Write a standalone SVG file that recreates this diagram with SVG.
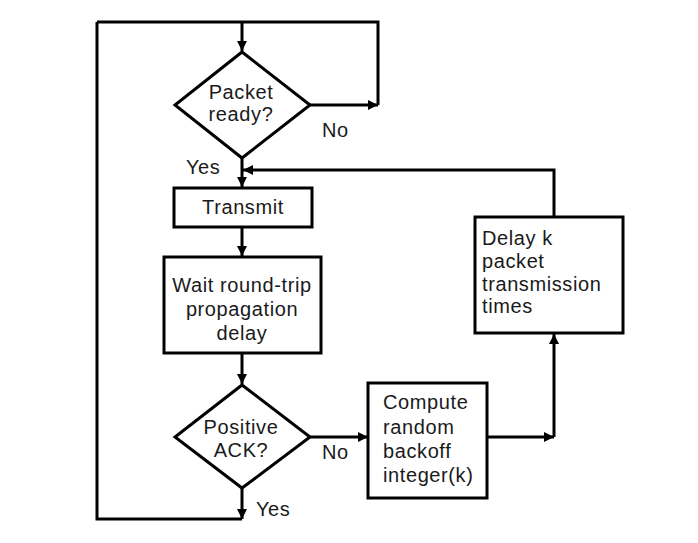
<svg xmlns="http://www.w3.org/2000/svg" width="698" height="543" viewBox="0 0 698 543">
<style>
.ln{fill:none;stroke:#000;stroke-width:3}
.shp{fill:#fff;stroke:#000;stroke-width:3}
.t{font-family:"Liberation Sans",Arial,sans-serif;font-size:20px;letter-spacing:0.6px;fill:#1a1a1a}
.c{text-anchor:middle}
</style>
<defs>
<marker id="ah" viewBox="0 0 10 10" refX="10" refY="5" markerWidth="10" markerHeight="10" markerUnits="userSpaceOnUse" orient="auto">
<path d="M0,0 L10,5 L0,10 z" fill="#000"/>
</marker>
</defs>
<rect width="698" height="543" fill="#fff"/>
<g id="connectors">
<path class="ln" d="M97,22 H378 V105"/>
<path class="ln" d="M310,105 H378" marker-end="url(#ah)"/>
<path class="ln" d="M242,22 V51" marker-end="url(#ah)"/>
<path class="ln" d="M242,158 V187" marker-end="url(#ah)"/>
<path class="ln" d="M554,217 V170 H243" marker-end="url(#ah)"/>
<path class="ln" d="M242,227 V256" marker-end="url(#ah)"/>
<path class="ln" d="M242,353 V384" marker-end="url(#ah)"/>
<path class="ln" d="M310,437 H368" marker-end="url(#ah)"/>
<path class="ln" d="M487,437 H554" marker-end="url(#ah)"/>
<path class="ln" d="M554,437 V334" marker-end="url(#ah)"/>
<path class="ln" d="M242,488 V519" marker-end="url(#ah)"/>
<path class="ln" d="M242,519 H97 V22"/>
<text class="t" x="322" y="137">No</text>
<text class="t" x="186" y="174">Yes</text>
<text class="t" x="322" y="459">No</text>
<text class="t" x="256" y="516">Yes</text>
</g>
<g id="packet-ready">
<path class="shp" d="M242,52 L310,105 L242,158 L175,105 Z"/>
<text class="t c" x="241" y="99">Packet</text>
<text class="t c" x="241" y="121">ready?</text>
</g>
<g id="transmit">
<rect class="shp" x="174" y="188" width="138" height="39"/>
<text class="t c" x="243" y="214">Transmit</text>
</g>
<g id="wait">
<rect class="shp" x="164" y="257" width="157" height="96"/>
<text class="t c" x="242" y="292">Wait round-trip</text>
<text class="t c" x="242" y="316">propagation</text>
<text class="t c" x="242" y="340">delay</text>
</g>
<g id="positive-ack">
<path class="shp" d="M242,385 L310,437 L242,488 L175,437 Z"/>
<text class="t c" x="241" y="434">Positive</text>
<text class="t c" x="241" y="457">ACK?</text>
</g>
<g id="compute">
<rect class="shp" x="368" y="383" width="119" height="115"/>
<text class="t" x="383" y="409">Compute</text>
<text class="t" x="383" y="434">random</text>
<text class="t" x="383" y="458">backoff</text>
<text class="t" x="383" y="482">integer(k)</text>
</g>
<g id="delay">
<rect class="shp" x="475" y="217" width="148" height="116"/>
<text class="t" x="482" y="245">Delay k</text>
<text class="t" x="482" y="268">packet</text>
<text class="t" x="482" y="291">transmission</text>
<text class="t" x="482" y="313">times</text>
</g>
</svg>
